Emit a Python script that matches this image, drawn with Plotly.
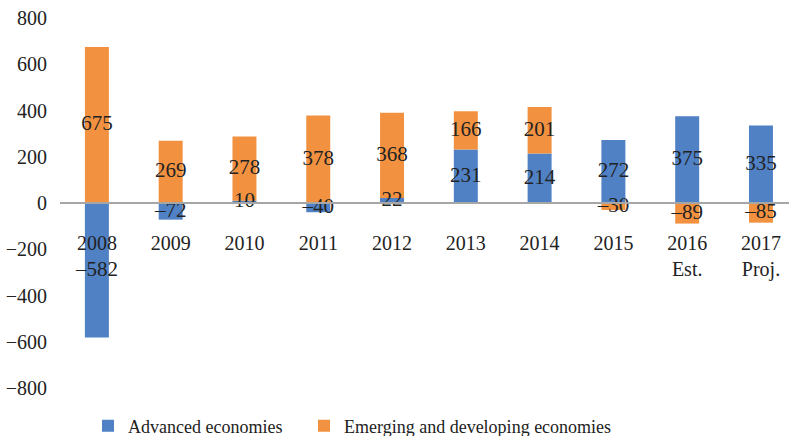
import plotly.graph_objects as go

categories = ["2008", "2009", "2010", "2011", "2012", "2013", "2014", "2015", "2016<br>Est.", "2017<br>Proj."]
advanced = [-582, -72, 10, -40, 22, 231, 214, 272, 375, 335]
emerging = [675, 269, 278, 378, 368, 166, 201, -30, -89, -85]
y_ticks = [-800, -600, -400, -200, 0, 200, 400, 600, 800]

BLUE = "#4F81C4"
ORANGE = "#F29240"
FONT = "Liberation Serif, Times New Roman, serif"
TXT = "#222222"

def fmt(v):
    return ("\u2013" + str(abs(v))) if v < 0 else str(v)

# centers of each stacked segment (relative stacking: positives and negatives separately)
adv_c, em_c = [], []
for a, e in zip(advanced, emerging):
    pos, neg = 0, 0
    if a >= 0:
        adv_c.append(pos + a / 2); pos += a
    else:
        adv_c.append(neg + a / 2); neg += a
    if e >= 0:
        em_c.append(pos + e / 2); pos += e
    else:
        em_c.append(neg + e / 2); neg += e

fig = go.Figure()
fig.add_trace(go.Bar(x=categories, y=advanced, name="Advanced economies", legend="legend",
                     marker=dict(color=BLUE, line=dict(width=0)), hoverinfo="skip"))
fig.add_trace(go.Bar(x=categories, y=emerging, name="Emerging and developing economies",
                     legend="legend2",
                     marker=dict(color=ORANGE, line=dict(width=0)), hoverinfo="skip"))
fig.add_trace(go.Scatter(x=categories + categories, y=adv_c + em_c, mode="text",
                         text=[fmt(v) for v in advanced] + [fmt(v) for v in emerging],
                         textfont=dict(family=FONT, size=21, color=TXT),
                         showlegend=False, hoverinfo="skip", cliponaxis=False))

leg_common = dict(orientation="h", yanchor="middle", xanchor="left",
                  font=dict(family=FONT, size=18, color=TXT),
                  itemwidth=30, bgcolor="rgba(0,0,0,0)")
LEG_Y = -(426 - 388) / 370

fig.update_layout(
    width=789, height=436,
    margin=dict(l=60, r=0, t=18, b=48, autoexpand=False),
    paper_bgcolor="white", plot_bgcolor="white",
    barmode="relative", bargap=0.675,
    font=dict(family=FONT, size=20, color=TXT),
    showlegend=True,
    legend=dict(x=(88 - 60) / 729, y=LEG_Y, **leg_common),
    legend2=dict(x=(304 - 60) / 729, y=LEG_Y, **leg_common),
    xaxis=dict(type="category", range=[-0.5, 9.38], anchor="free", position=0.5,
               showline=True, linecolor="#A6A6A6", linewidth=2, automargin=False,
               showgrid=False, zeroline=False, ticks="", ticklabelstandoff=22,
               tickfont=dict(family=FONT, size=20, color=TXT)),
    yaxis=dict(range=[-800, 800], tickvals=y_ticks, showgrid=False, zeroline=False,
               showline=False, ticks="", ticklabelstandoff=12, automargin=False,
               tickfont=dict(family=FONT, size=20, color=TXT)),
)

fig.write_html("out.html", config={"displayModeBar": False},
               post_script="document.body.style.margin='0';document.body.style.overflow='hidden';")
